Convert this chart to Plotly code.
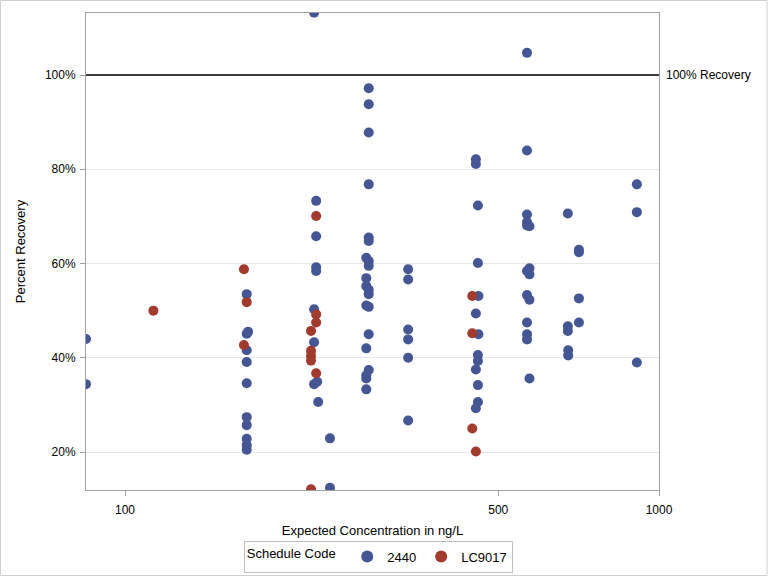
import plotly.graph_objects as go

# Schedule 2440 (blue)
conc_2440 = [84.5, 84.5,
             169, 170, 169, 169, 169, 169, 169, 169, 169, 169, 169,
             226, 228, 228, 228, 228, 226, 226, 229, 226, 230, 242, 242,
             286, 286, 286, 286, 286, 286, 283, 286, 286, 283, 283, 286, 286, 283, 286, 286, 283, 286, 283, 283, 283,
             339, 339, 339, 339, 339, 339,
             454, 454, 458, 458, 459, 454, 459, 458, 458, 454, 458, 458, 454,
             566, 566, 566, 566, 566, 572, 566, 572, 572, 566, 572, 566, 566, 566, 572,
             675, 675, 675, 676, 676,
             708, 708, 708, 708,
             909, 909, 909]
rec_2440 = [44.0, 34.4,
            53.5, 45.5, 45.1, 41.6, 39.1, 34.6, 27.4, 25.7, 22.8, 21.5, 20.5,
            113.2, 73.3, 65.8, 59.2, 58.4, 50.3, 43.3, 34.9, 34.4, 30.6, 22.9, 12.4,
            97.2, 93.8, 87.8, 76.8, 65.5, 64.8, 61.2, 60.5, 59.5, 56.9, 55.2, 54.4, 53.5, 51.1, 50.8, 45.0, 42.0, 37.4, 36.3, 35.6, 33.3,
            58.8, 56.6, 46.0, 43.9, 40.0, 26.7,
            82.1, 81.1, 72.3, 60.1, 53.1, 49.4, 45.0, 40.6, 39.3, 37.5, 34.2, 30.6, 29.3,
            104.7, 84.0, 70.4, 68.8, 68.1, 67.9, 58.4, 59.0, 57.7, 53.3, 52.3, 47.5, 45.0, 43.9, 35.6,
            70.6, 46.7, 45.7, 41.6, 40.5,
            62.9, 62.4, 52.6, 47.5,
            76.8, 70.9, 39.0]

# Schedule LC9017 (red)
conc_lc9017 = [113, 167, 169, 167,
               228, 228, 228, 223, 223, 223, 223, 228, 223,
               447, 447, 447, 454]
rec_lc9017 = [50.0, 58.8, 51.8, 42.7,
              70.1, 49.2, 47.5, 45.7, 41.5, 40.4, 39.4, 36.7, 12.1,
              53.1, 45.2, 25.0, 20.1]

y_ticks = [20, 40, 60, 80, 100]
y_tick_labels = ["20%", "40%", "60%", "80%", "100%"]
x_ticks = [100, 500, 1000]
x_tick_labels = ["100", "500", "1000"]

FONT = "Liberation Sans, Arial, sans-serif"
AXIS_COL = "#A0A0A0"

fig = go.Figure()
fig.add_trace(go.Scatter(x=conc_2440, y=rec_2440, mode="markers", name="2440",
                         marker=dict(color="#445694", size=10)))
fig.add_trace(go.Scatter(x=conc_lc9017, y=rec_lc9017, mode="markers", name="LC9017",
                         marker=dict(color="#A23A2E", size=10)))

fig.add_shape(type="line", xref="paper", yref="y", x0=0, x1=1, y0=100, y1=100,
              line=dict(color="black", width=1.5))
fig.add_annotation(xref="paper", yref="y", x=1, y=100, text="100% Recovery",
                   showarrow=False, xanchor="left", xshift=5,
                   font=dict(size=12, color="black", family=FONT))
# outer frame of the graphic
fig.add_shape(type="rect", xref="paper", yref="paper",
              x0=-85.5/573, x1=1+108/573, y0=-85.5/477, y1=1+12.5/477,
              line=dict(color="#D0D0D0", width=1), layer="below")

fig.update_layout(
    width=768, height=576,
    margin=dict(l=86, r=109, t=13, b=86, autoexpand=False),
    paper_bgcolor="white", plot_bgcolor="white",
    font=dict(family=FONT, size=12, color="black"),
    showlegend=True,
    legend=dict(orientation="h", x=0.51, xanchor="center", y=-0.106, yanchor="top",
                title=dict(text="Schedule Code ", side="left", font=dict(size=13)),
                bordercolor="#C0C0C0", borderwidth=1, bgcolor="white",
                font=dict(size=13), itemsizing="constant", tracegroupgap=0,
                itemwidth=30),
    xaxis=dict(type="log", range=[1.9269, 3.0], tickvals=x_ticks, ticktext=x_tick_labels,
               showgrid=False, showline=True, linecolor=AXIS_COL, mirror=True,
               ticks="outside", tickcolor=AXIS_COL, ticklen=5, ticklabelstandoff=4,
               tickfont=dict(size=12), zeroline=False,
               title=dict(text="Expected Concentration in ng/L", font=dict(size=13), standoff=9)),
    yaxis=dict(range=[11.94, 113.16], tickvals=y_ticks, ticktext=y_tick_labels,
               showgrid=True, gridcolor="#E6E6E6", showline=True, linecolor=AXIS_COL, mirror=True,
               ticks="outside", tickcolor=AXIS_COL, ticklen=5, ticklabelstandoff=2,
               tickfont=dict(size=12), zeroline=False,
               title=dict(text="Percent Recovery", font=dict(size=13), standoff=16)),
)

fig.write_html("out.html", config={"displayModeBar": False},
               post_script="document.body.style.margin='0';")
